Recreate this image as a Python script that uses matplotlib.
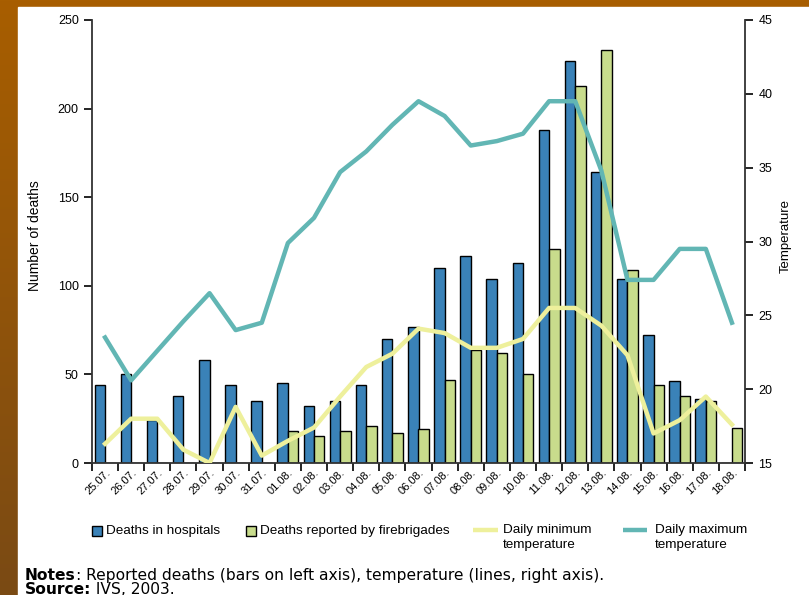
import matplotlib
matplotlib.use("Agg")
import matplotlib.pyplot as plt
import matplotlib.transforms as mtransforms
from matplotlib.patches import Rectangle
from matplotlib.colors import LinearSegmentedColormap
import numpy as np

dates = ["25.07.", "26.07.", "27.07.", "28.07.", "29.07.", "30.07.", "31.07.",
         "01.08.", "02.08.", "03.08.", "04.08.", "05.08.", "06.08.", "07.08.",
         "08.08.", "09.08.", "10.08.", "11.08.", "12.08.", "13.08.", "14.08.",
         "15.08.", "16.08.", "17.08.", "18.08."]
deaths_hospitals = [44, 50, 24, 38, 58, 44, 35, 45, 32, 35, 44, 70, 77, 110,
                    117, 104, 113, 188, 227, 164, 104, 72, 46, 36, 0]
deaths_firebrigades = [0, 0, 0, 0, 0, 0, 0, 18, 15, 18, 21, 17, 19, 47,
                       64, 62, 50, 121, 213, 233, 109, 44, 38, 35, 20]
temp_min = [16.3, 18.0, 18.0, 15.9, 15.0, 18.8, 15.5, 16.5, 17.4, 19.5, 21.5,
            22.4, 24.1, 23.8, 22.8, 22.8, 23.4, 25.5, 25.5, 24.3, 22.3, 17.0,
            17.9, 19.5, 17.6]
temp_max = [23.5, 20.6, 22.6, 24.6, 26.5, 24.0, 24.5, 29.9, 31.6, 34.7, 36.1,
            37.9, 39.5, 38.5, 36.5, 36.8, 37.3, 39.5, 39.5, 34.8, 27.4, 27.4,
            29.5, 29.5, 24.5]
legend_labels = ["Deaths in hospitals", "Deaths reported by firebrigades",
                 "Daily minimum\ntemperature", "Daily maximum\ntemperature"]

BLUE = "#3A82B8"
GREEN = "#C8DC8C"
YELLOW = "#EEF09C"
TEAL = "#62B6B4"
SANS = ["Liberation Sans Narrow", "Liberation Sans", "DejaVu Sans"]

W, H = 809, 595
fig = plt.figure(figsize=(W / 100, H / 100), dpi=100)

# background gradient border
bg = fig.add_axes([0, 0, 1, 1], zorder=-10)
grad = np.linspace(0, 1, 256).reshape(-1, 1)
cmap = LinearSegmentedColormap.from_list("brd", ["#A85E00", "#7A4A14"])
bg.imshow(grad, aspect="auto", cmap=cmap, extent=[0, 1, 0, 1], origin="upper")
bg.add_patch(Rectangle((18 / W, 0), 1, (H - 7) / H, color="white"))
bg.set_xlim(0, 1)
bg.set_ylim(0, 1)
bg.axis("off")

x0, x1 = 92, 745
y0, y1 = 20, 463
ax = fig.add_axes([x0 / W, (H - y1) / H, (x1 - x0) / W, (y1 - y0) / H])
ax.set_facecolor("none")
n = len(dates)
idx = np.arange(n)
bw = 0.4
ax.bar(idx - 0.2, deaths_hospitals, width=bw, color=BLUE, edgecolor="black",
       linewidth=1.0, zorder=2)
ax.bar(idx + 0.2, deaths_firebrigades, width=bw, color=GREEN, edgecolor="black",
       linewidth=1.0, zorder=2)
ax.set_xlim(-0.5, n - 0.5)
ax.set_ylim(0, 250)
ax.set_yticks(range(0, 251, 50))
ax.set_xticks(np.arange(-0.5, n, 1.0))
ax.set_xticklabels([])
ax.set_xticks(idx, minor=True)
ax.set_xticklabels(dates, minor=True, rotation=45, ha="right",
                   rotation_mode="anchor", fontsize=8, family=SANS)
off = mtransforms.ScaledTranslation(8 / 100, -7 / 100, fig.dpi_scale_trans)
for lab in ax.get_xticklabels(minor=True):
    lab.set_transform(lab.get_transform() + off)
ax.tick_params(axis="x", which="minor", length=0)
ax.tick_params(axis="x", which="major", length=6, width=1.2, direction="out")
ax.tick_params(axis="y", length=6, width=1.2, direction="out", labelsize=9)
for lab in ax.get_yticklabels():
    lab.set_family(SANS)
ax.spines["top"].set_visible(False)
ax.spines["right"].set_visible(False)
for s in ("left", "bottom"):
    ax.spines[s].set_linewidth(1.3)
    ax.spines[s].set_color("#333333")

ax2 = ax.twinx()
ax2.plot(idx, temp_min, color=YELLOW, linewidth=3.2, solid_joinstyle="round",
         zorder=3)
ax2.plot(idx, temp_max, color=TEAL, linewidth=3.2, solid_joinstyle="round",
         zorder=3)
ax2.set_ylim(15, 45)
ax2.set_yticks(range(15, 46, 5))
ax2.tick_params(axis="y", length=6, width=1.2, direction="out", labelsize=9)
for lab in ax2.get_yticklabels():
    lab.set_family(SANS)
ax2.spines["top"].set_visible(False)
ax2.spines["left"].set_visible(False)
ax2.spines["bottom"].set_visible(False)
ax2.spines["right"].set_linewidth(1.3)
ax2.spines["right"].set_color("#333333")

# overlay in pixel coordinates for labels, legend and notes
ov = fig.add_axes([0, 0, 1, 1], zorder=5)
ov.set_xlim(0, W)
ov.set_ylim(H, 0)
ov.axis("off")
ov.patch.set_visible(False)

ov.text(35, 236, "Number of deaths", rotation=90, ha="center", va="center",
        fontsize=10, family=SANS)
ov.text(786, 236, "Temperature", rotation=90, ha="center", va="center",
        fontsize=9.5, family=SANS)

# legend
LF = 9.7
ov.add_patch(Rectangle((92, 526), 10, 10, facecolor=BLUE, edgecolor="black",
                       linewidth=1.0))
ov.text(106, 531, legend_labels[0], ha="left", va="center", fontsize=LF,
        family=SANS)
ov.add_patch(Rectangle((246, 526), 10, 10, facecolor=GREEN, edgecolor="black",
                       linewidth=1.0))
ov.text(260, 531, legend_labels[1], ha="left", va="center", fontsize=LF,
        family=SANS)
ov.plot([473, 498], [530, 530], color=YELLOW, linewidth=3.2,
        solid_capstyle="butt")
ov.text(503, 537.5, legend_labels[2], ha="left", va="center", fontsize=LF,
        family=SANS, linespacing=1.25)
ov.plot([623, 647], [530, 530], color=TEAL, linewidth=3.2,
        solid_capstyle="butt")
ov.text(655, 537.5, legend_labels[3], ha="left", va="center", fontsize=LF,
        family=SANS, linespacing=1.25)

# notes (bold lead-in followed by regular text on a shared baseline)
fig.canvas.draw()
r = fig.canvas.get_renderer()
def rich(xpx, ybase, bold, rest):
    t = ov.text(xpx, ybase, bold, fontsize=11.2, fontweight="bold",
                family="DejaVu Sans", va="baseline", ha="left")
    bb = t.get_window_extent(renderer=r)
    xr = ov.transData.inverted().transform((bb.x1, bb.y0))[0]
    ov.text(xr, ybase, rest, fontsize=11.2, family="DejaVu Sans",
            va="baseline", ha="left")
rich(25, 580, "Notes", ": Reported deaths (bars on left axis), temperature (lines, right axis).")
rich(25, 594, "Source:", " IVS, 2003.")

fig.savefig("out.png", dpi=100)
